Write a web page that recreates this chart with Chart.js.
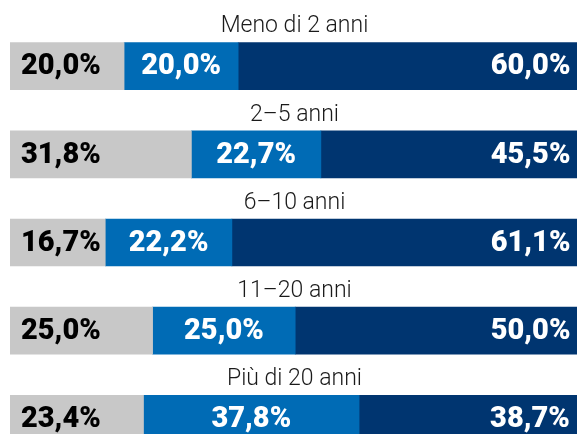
<!DOCTYPE html>
<html>
<head>
<meta charset="utf-8">
<script src="https://cdn.jsdelivr.net/npm/chart.js@4/dist/chart.umd.min.js"></script>
<style>
  html, body { margin: 0; padding: 0; background: #fff; }
  #wrap { width: 577px; height: 434px; overflow: hidden; position: relative; }
  #wrap canvas { display: block; }
</style>
</head>
<body>
<div id="wrap"><canvas id="chart" width="577" height="463"></canvas></div>
<script>
// groups (one bar each) and the three shares per group
const groups = ["Meno di 2 anni", "2\u20135 anni", "6\u201310 anni", "11\u201320 anni", "Pi\u00f9 di 20 anni"];
const greyShare = [20.0, 31.8, 16.7, 25.0, 23.4];
const blueShare = [20.0, 22.7, 22.2, 25.0, 37.8];
const navyShare = [60.0, 45.5, 61.1, 50.0, 38.7];

const fmt = v => v.toFixed(1).replace(".", ",") + "%";

// draws the group titles above the bars and the value labels inside them
const barText = {
  id: "barText",
  afterDatasetsDraw(chart) {
    const ctx = chart.ctx;
    const area = chart.chartArea;
    ctx.save();
    ctx.textBaseline = "middle";

    // titles
    ctx.font = "300 23px Roboto";
    ctx.fillStyle = "#1a1a1a";
    ctx.textAlign = "center";
    const first = chart.getDatasetMeta(0).data;
    first.forEach((bar, i) => {
      ctx.fillText(groups[i], (area.left + area.right) / 2 + 1, bar.y - bar.height / 2 - 16);
    });

    // values
    ctx.font = "900 29px Roboto";
    chart.data.datasets.forEach((ds, d) => {
      chart.getDatasetMeta(d).data.forEach((bar, i) => {
        const left = Math.min(bar.base, bar.x);
        const right = Math.max(bar.base, bar.x);
        let x;
        if (d === 0) { ctx.textAlign = "left"; x = left + 11; ctx.fillStyle = "#000"; }
        else if (d === 1) { ctx.textAlign = "center"; x = (left + right) / 2; ctx.fillStyle = "#fff"; }
        else { ctx.textAlign = "right"; x = right - 10; ctx.fillStyle = "#fff"; }
        ctx.fillText(fmt(ds.data[i]), x, bar.y + 1);
      });
    });
    ctx.restore();
  }
};

new Chart(document.getElementById("chart").getContext("2d"), {
  type: "bar",
  data: {
    labels: groups,
    datasets: [
      { data: greyShare, backgroundColor: "#c8c8c8" },
      { data: blueShare, backgroundColor: "#006bb5" },
      { data: navyShare, backgroundColor: "#003570" }
    ]
  },
  options: {
    indexAxis: "y",
    responsive: false,
    animation: false,
    layout: { padding: { left: 10, right: 0, top: 22, bottom: 0 } },
    datasets: { bar: { barThickness: 47, borderWidth: 0 } },
    plugins: { legend: { display: false }, tooltip: { enabled: false } },
    scales: {
      x: { stacked: true, min: 0, max: 99.4, display: false },
      y: { stacked: true, display: false }
    }
  },
  plugins: [barText]
});
</script>
</body>
</html>
